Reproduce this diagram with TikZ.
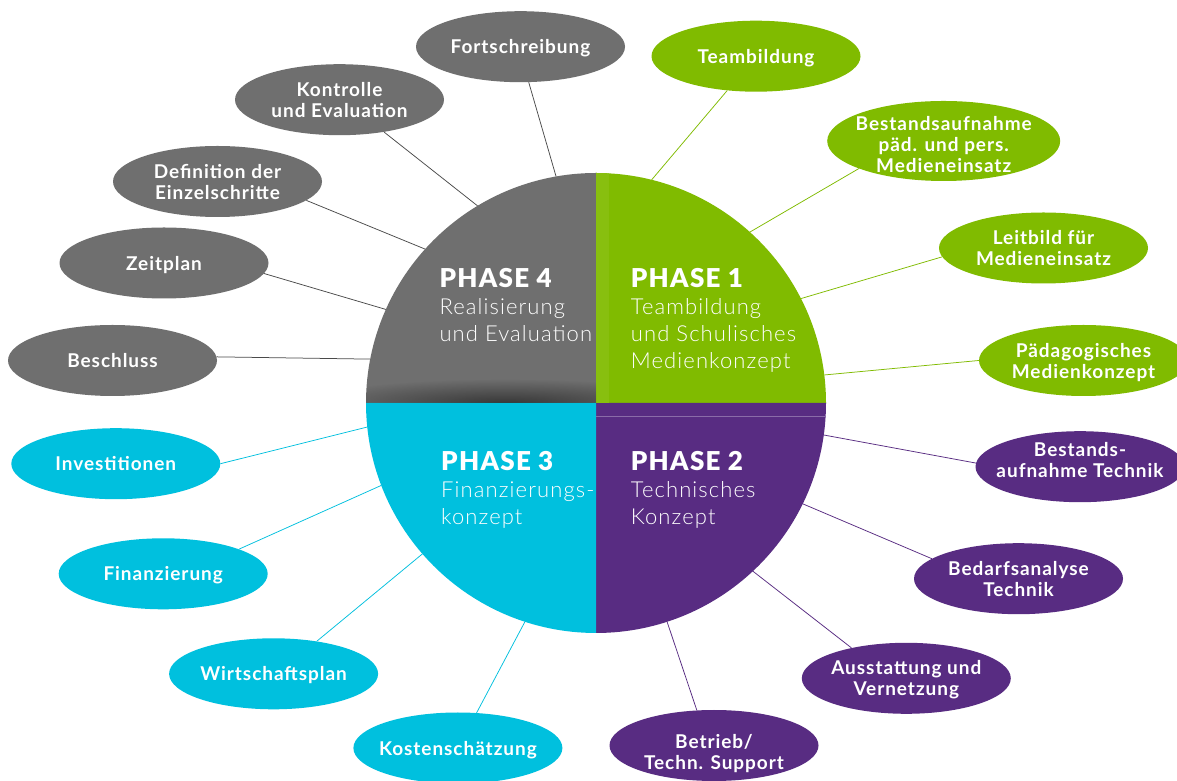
\documentclass[tikz,border=0pt]{standalone}
\usepackage{fontspec}
\setmainfont{Lato}[LetterSpace=5.0]
\newfontfamily\lightf{Lato Light}[LetterSpace=5.0]
\newfontfamily\heavyf{Lato Black}[LetterSpace=5.0]
\usetikzlibrary{shapes.geometric,fadings}
\definecolor{pgray}{HTML}{6F6F6F}
\definecolor{pgreen}{HTML}{80BB00}
\definecolor{ppurple}{HTML}{582C82}
\definecolor{pcyan}{HTML}{00C0DE}
\definecolor{lgray}{HTML}{4A4A4A}
\tikzfading[name=shfade, inner color=transparent!0, outer color=transparent!100]
% labels are boxed with zero width so that the ellipses keep their own size
\newcommand\onel[1]{\hbox to 0pt{\hss#1\hss}}
\newcommand\twol[2]{\hbox to 0pt{\hss\vbox{\baselineskip=21pt\halign{\hfil##\hfil\cr#1\cr#2\cr}}\hss}}
\newcommand\threel[3]{\hbox to 0pt{\hss\vbox{\baselineskip=21pt\halign{\hfil##\hfil\cr#1\cr#2\cr#3\cr}}\hss}}
\newcommand\lbshift[2]{\raisebox{#1}[\height][\depth]{#2}}
\newcommand\phhead[1]{\hbox{\heavyf\fontsize{26}{27}\selectfont #1}}
\newcommand\phline[1]{\hbox{\lightf\fontsize{22}{27}\selectfont #1}}
\tikzset{
  bub/.style={ellipse, minimum width=209pt, minimum height=71pt, inner sep=0pt,
    text=white, font=\bfseries\fontsize{19}{21}\selectfont, text depth=0pt},
  b4/.style={bub, fill=pgray},
  b1/.style={bub, fill=pgreen},
  b2/.style={bub, fill=ppurple},
  b3/.style={bub, fill=pcyan},
  con/.style={line width=0.75pt},
  c4/.style={con, draw=lgray},
  c1/.style={con, draw=pgreen},
  c2/.style={con, draw=ppurple},
  c3/.style={con, draw=pcyan},
  phtxt/.style={anchor=base west, inner sep=0pt, text=white},
}
\begin{document}
\begin{tikzpicture}[x=1pt,y=1pt]
\useasboundingbox (0,0) rectangle (1177,781);
\fill[white] (0,0) rectangle (1177,781);
\clip (0,0) rectangle (1177,781);

% hub circle (reference for anchors)
\node[circle, minimum size=460pt, inner sep=0pt, outer sep=0pt] (hub) at (596,378) {};

% quadrants
\fill[pgray] (hub.center) -- (hub.180) arc[start angle=180, end angle=90, radius=230pt] -- cycle;
\fill[pgreen] (hub.center) -- (hub.90) arc[start angle=90, end angle=0, radius=230pt] -- cycle;
\fill[ppurple] (hub.center) -- (hub.0) arc[start angle=0, end angle=-90, radius=230pt] -- cycle;
\fill[pcyan] (hub.center) -- (hub.-90) arc[start angle=-90, end angle=-180, radius=230pt] -- cycle;

% subtle artefacts of the original
\begin{scope}
  \clip (hub.center) -- (hub.90) arc[start angle=90, end angle=0, radius=230pt] -- cycle;
  \fill[pgreen!94!white] (596,378) rectangle (609,610);
\end{scope}
\draw[ppurple!70!white, line width=0.6pt] (596,365) -- (825.6,365);
\begin{scope}
  \clip (hub.center) -- (hub.180) arc[start angle=180, end angle=90, radius=230pt] -- cycle;
  \fill[black, opacity=0.5, path fading=shfade] (505,378) ellipse [x radius=200pt, y radius=24pt];
\end{scope}

% phase texts
\node[phtxt] (ph4) at (439.3,493.3) {\vtop{\baselineskip=27pt\phhead{PHASE 4}\phline{Realisierung}\phline{und Evaluation}}};
\node[phtxt] (ph1) at (630.7,493.3) {\vtop{\baselineskip=27pt\phhead{PHASE 1}\phline{Teambildung}\phline{und Schulisches}\phline{Medienkonzept}}};
\node[phtxt] (ph3) at (441,310.3) {\vtop{\baselineskip=27pt\phhead{PHASE 3}\phline{Finanzierungs-}\phline{konzept}}};
\node[phtxt] (ph2) at (630.7,310.3) {\vtop{\baselineskip=27pt\phhead{PHASE 2}\phline{Technisches}\phline{Konzept}}};

% phase 4 (gray)
\node[b4] (fort) at (520.5,734.3) {\onel{Fortschreibung}};
\node[b4] (kontr) at (339.5,681.3) {\twol{Kontrolle}{und Evaluation}};
\node[b4] (defin) at (217.5,599.5) {\twol{Definition der}{Einzelschritte}};
\node[b4] (zeit) at (164,518) {\onel{Zeitplan}};
\node[b4] (beschl) at (112.5,420.5) {\onel{Beschluss}};
% phase 1 (green)
\node[b1] (team) at (756,724.8) {\onel{Teambildung}};
\node[b1, minimum width=233pt, minimum height=80pt] (bestand) at (943.7,640) {\lbshift{-3pt}{\threel{Bestandsaufnahme}{päd. und pers.}{Medieneinsatz}}};
\node[b1] (leit) at (1043.5,533) {\twol{Leitbild für}{Medieneinsatz}};
\node[b1] (paed) at (1083.5,420.5) {\twol{Pädagogisches}{Medienkonzept}};
% phase 2 (purple)
\node[b2] (bestT) at (1080,314.3) {\lbshift{7pt}{\twol{Bestands-}{aufnahme Technik}}};
\node[b2] (bedarf) at (1018.5,202.3) {\twol{Bedarfsanalyse}{Technik}};
\node[b2] (ausst) at (906.3,102.7) {\twol{Ausstattung und}{Vernetzung}};
\node[b2] (betr) at (714,35.5) {\lbshift{-6pt}{\twol{Betrieb/}{Techn. Support}}};
% phase 3 (cyan)
\node[b3] (invest) at (115.8,317.3) {\onel{Investitionen}};
\node[b3] (finanz) at (163.2,207.2) {\onel{Finanzierung}};
\node[b3] (wirt) at (273.6,107.2) {\onel{Wirtschaftsplan}};
\node[b3] (kost) at (457.9,33) {\onel{Kostenschätzung}};

% connectors
\draw[c4] (fort.-77.8) -- (hub.100);
\draw[c4] (kontr.-36.4) -- (hub.121.4);
\draw[c4] (defin.-12.1) -- (hub.138.5);
\draw[c4] (zeit.-6.9) -- (hub.156.2);
\draw[c4] (beschl.2.6) -- (hub.169.4);
\draw[c1] (team.-130) -- (hub.76.7);
\draw[c1] (bestand.-162.7) -- (hub.48.6);
\draw[c1] (leit.-175.6) -- (hub.27.5);
\draw[c1] (paed.180) -- (hub.7);
\draw[c2] (bestT.178.5) -- (hub.-8.8);
\draw[c2] (bedarf.167.7) -- (hub.-26.6);
\draw[c2] (ausst.151.1) -- (hub.-47.7);
\draw[c2] (betr.116.4) -- (hub.-72.4);
\draw[c3] (invest.0) -- (hub.186.3);
\draw[c3] (finanz.18.5) -- (hub.201.7);
\draw[c3] (wirt.37.1) -- (hub.221);
\draw[c3] (kost.62.4) -- (hub.252.5);
\end{tikzpicture}
\end{document}
